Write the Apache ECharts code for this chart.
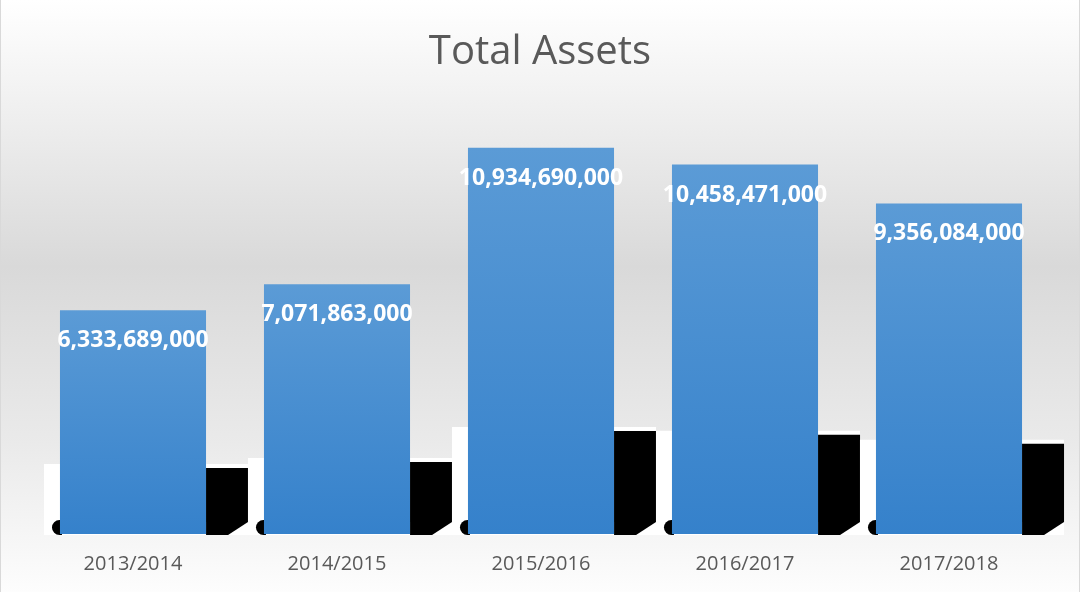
<!DOCTYPE html>
<html>
<head>
<meta charset="utf-8">
<script src="https://cdn.jsdelivr.net/npm/echarts@6/dist/echarts.min.js"></script>
<style>html,body{margin:0;padding:0;background:#fff}#c{width:1080px;height:592px}</style>
</head>
<body>
<div id="c"></div>
<script>
const categories = ['2013/2014', '2014/2015', '2015/2016', '2016/2017', '2017/2018'];
const totalAssets = [6333689000, 7071863000, 10934690000, 10458471000, 9356084000];
const titleText = 'Total Assets';

const chart = echarts.init(document.getElementById('c'));
const fmt = v => v.toLocaleString('en-US');
const BAR_RATIO = 0.716;

chart.setOption({
  animation: false,
  backgroundColor: new echarts.graphic.LinearGradient(0, 0, 0, 1, [
    {offset: 0, color: '#ffffff'},
    {offset: 0.12, color: '#f5f5f5'},
    {offset: 0.45, color: '#d9d9d9'},
    {offset: 0.75, color: '#eaeaea'},
    {offset: 1, color: '#fdfdfd'}
  ]),
  title: {
    text: titleText,
    left: 'center',
    top: 28,
    textStyle: {fontFamily: 'Open Sans', fontSize: 40, fontWeight: 'normal', color: '#595959'}
  },
  graphic: [
    {type: 'line', shape: {x1: 0.5, y1: 0, x2: 0.5, y2: 592}, style: {stroke: '#d9d9d9', lineWidth: 1}, silent: true},
    {type: 'line', shape: {x1: 1079.5, y1: 0, x2: 1079.5, y2: 592}, style: {stroke: '#d9d9d9', lineWidth: 1}, silent: true}
  ],
  grid: {left: 31, right: 29, top: 110, bottom: 58},
  xAxis: {
    type: 'category',
    data: categories,
    axisLine: {show: false},
    axisTick: {show: false},
    axisLabel: {fontFamily: 'Open Sans', fontSize: 20, color: '#595959', margin: 20}
  },
  yAxis: {
    type: 'value',
    min: 0,
    max: 12000000000,
    show: false,
    splitLine: {show: false}
  },
  series: [
    {
      type: 'custom',
      z: 1,
      silent: true,
      data: totalAssets.map((v, i) => [i, v]),
      renderItem: function (params, api) {
        const top = api.coord([api.value(0), api.value(1)]);
        const base = api.coord([api.value(0), 0]);
        const w = api.size([1, 0])[0] * BAR_RATIO;
        const x0 = top[0] - w / 2, x1 = top[0] + w / 2;
        const h = base[1] - top[1];
        const sh = 0.228 * h + 15;
        const b = base[1];
        return {
          type: 'group',
          children: [
            {type: 'rect', shape: {x: x0 - 16, y: b - sh - 4, width: w + 16 + 42, height: sh + 5}, style: {fill: '#ffffff'}},
            {type: 'polygon', shape: {points: [[x1, b - sh], [x1 + 42, b - sh], [x1 + 42, b - 12], [x1 + 22, b + 1], [x1, b + 1]]}, style: {fill: '#000000'}},
            {type: 'rect', shape: {x: x0 - 8, y: b - 14, width: 10, height: 15, r: [8, 0, 0, 8]}, style: {fill: '#000000'}}
          ]
        };
      }
    },
    {
      type: 'bar',
      z: 2,
      data: totalAssets,
      barWidth: '71.6%',
      itemStyle: {
        color: new echarts.graphic.LinearGradient(0, 0, 0, 1, [
          {offset: 0, color: '#5b9bd6'},
          {offset: 1, color: '#3581cb'}
        ])
      },
      label: {
        show: true,
        position: 'insideTop',
        distance: 19,
        formatter: p => fmt(p.value),
        fontFamily: 'Open Sans',
        fontWeight: 'bold',
        fontSize: 23,
        color: '#ffffff'
      }
    }
  ]
});
</script>
</body>
</html>
